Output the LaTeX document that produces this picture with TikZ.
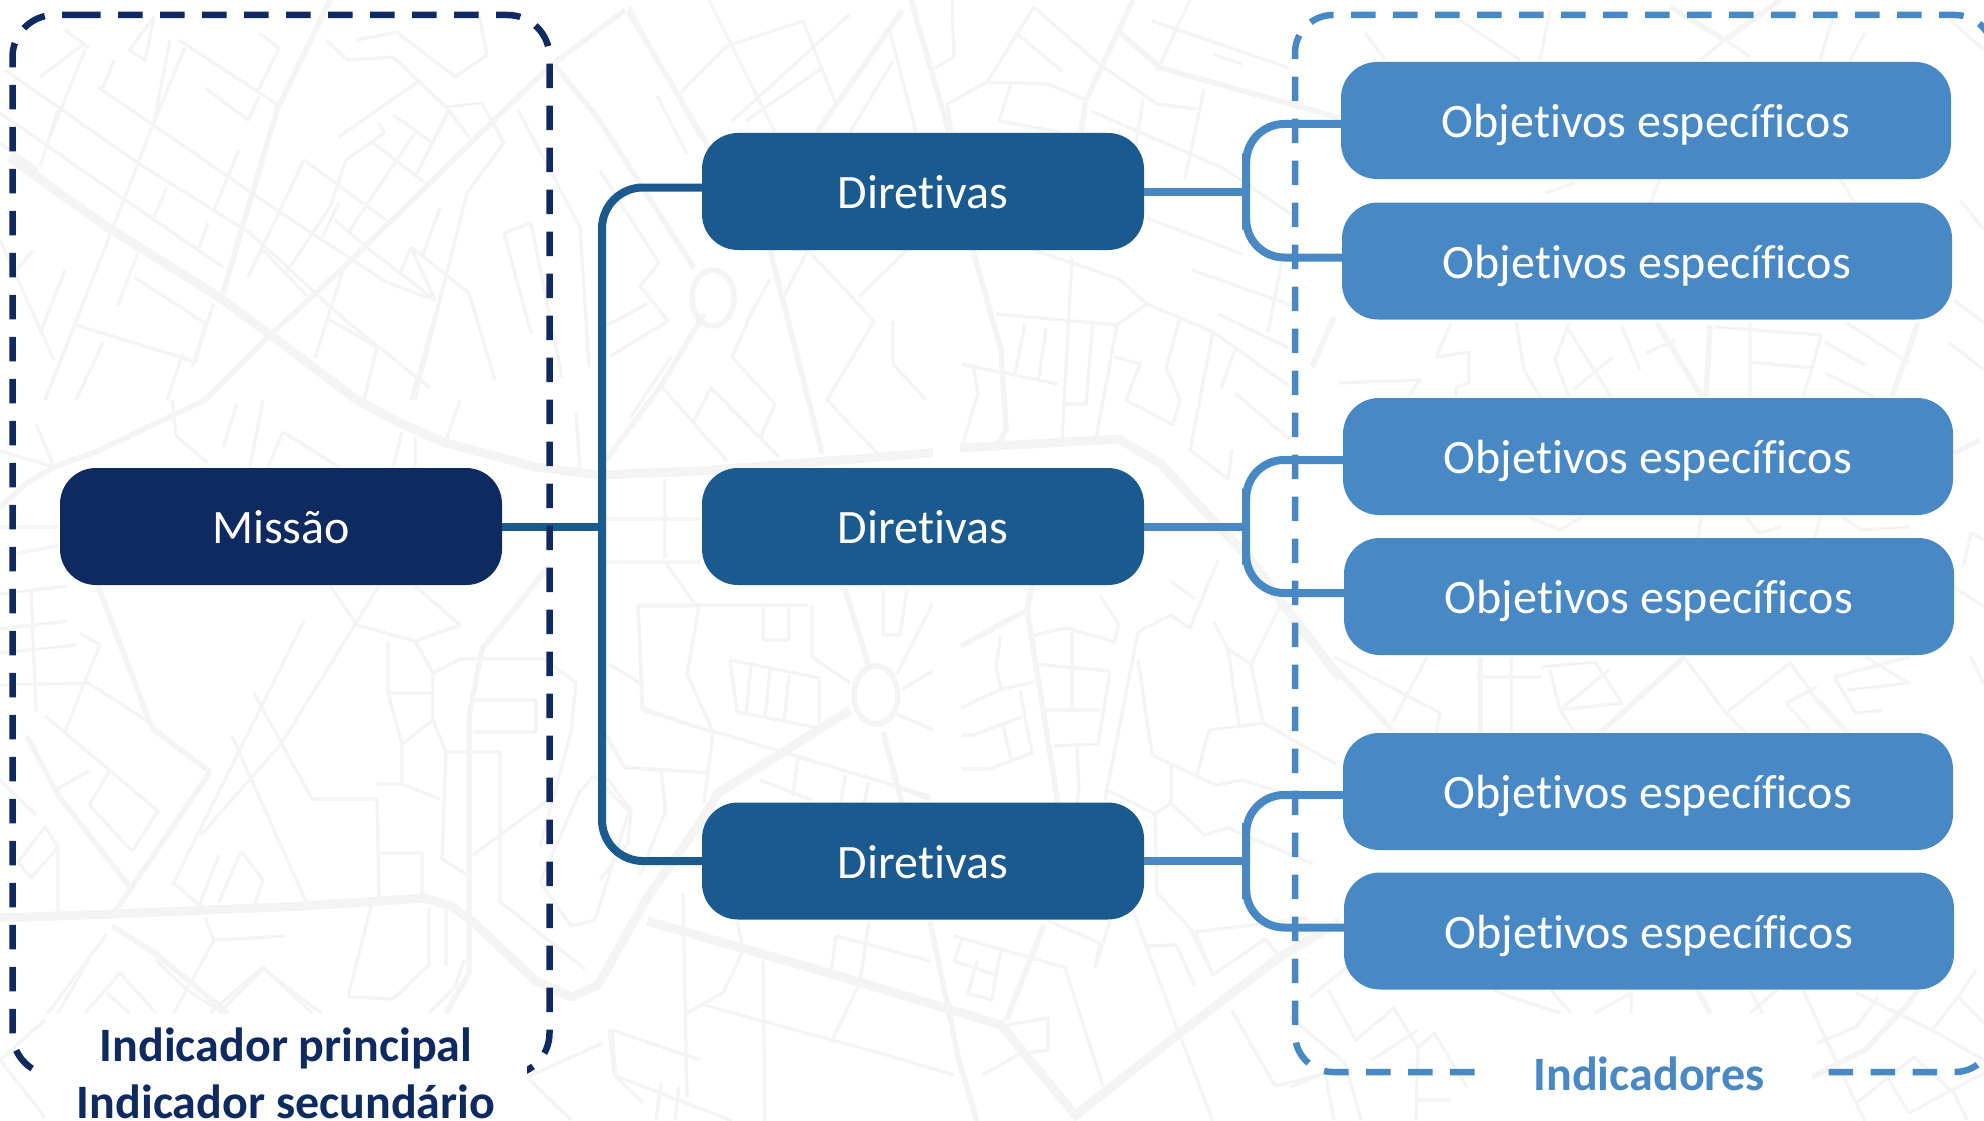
\documentclass[tikz,border=0pt]{standalone}
\usepackage{fontspec}
\setmainfont[Ligatures=NoCommon]{Carlito}
\definecolor{escuro}{HTML}{0F2A60}
\definecolor{medio}{HTML}{1B5A8E}
\definecolor{claro}{HTML}{4889C5}
\definecolor{mapa}{HTML}{F4F4F4}
\tikzstyle{caixa}=[rounded corners=36pt, inner sep=0pt, text=white, text height=38pt, text depth=4pt, font=\fontsize{48}{48}\selectfont]
\tikzstyle{missao}=[caixa, fill=escuro, minimum width=442pt, minimum height=117pt]
\tikzstyle{diretiva}=[caixa, fill=medio, minimum width=442pt, minimum height=117pt]
\tikzstyle{objetivo}=[caixa, fill=claro, minimum width=610pt, minimum height=117pt]
\tikzstyle{rua}=[draw=mapa, line width=3.2pt, line join=round]
\tikzstyle{via}=[draw=mapa, line width=5.5pt, line join=round]
\tikzstyle{avenida}=[draw=mapa, line width=9pt, line join=round]
\tikzstyle{tracado}=[line width=6.5pt, dash pattern=on 24.5pt off 17.5pt]
\tikzstyle{rotulo}=[inner sep=0pt, font=\fontsize{48}{57}\selectfont\bfseries, align=center]
\newcommand{\objetivo}{\node[objetivo]}

\begin{document}
\begin{tikzpicture}[x=1pt,y=-1pt]
\useasboundingbox (0,0) rectangle (1984,1121);
\fill[white] (0,0) rectangle (1984,1121);
% mapa
\draw[avenida] (9,157)--(107,227)--(219,297)--(268,333)--(357,400)--(402,424)--(446,443)--(536,467)--(598,475)--(700,471)--(930,453)--(960,448)--(1119,439)--(1161,464)--(1194,500)--(1251,560)--(1279,599)--(1340,678);
\draw[avenida] (0,918)--(112,914)--(304,906)--(424,898)--(451,906)--(473,922)--(536,981)--(571,997)--(598,985)--(647,898)--(700,823)--(718,793)--(850,710);
\draw[avenida] (647,921)--(836,975)--(1001,1025)--(1072,1111) (1072,1118)--(1176,1036)--(1280,957)--(1340,921);
\draw[via] (330,0)--(277,110)--(223,293) (625,10)--(549,67)--(491,123)--(344,267)--(268,337)--(205,400)--(98,451)--(54,467)--(27,483)--(0,507);
\draw[via] (553,63)--(600,121)--(694,268) (628,11)--(713,154) (911,0)--(949,132) (973,250)--(1001,350)--(1006,429)--(996,450);
\draw[via] (1119,32)--(1161,68)--(1340,118) (1133,0)--(1086,100)--(1081,132) (902,11)--(817,132) (704,314)--(661,386)--(605,461) (770,250)--(822,453);
\draw[via] (549,566)--(482,649)--(469,716)--(469,922)--(469,973)--(446,1013) (27,736)--(58,795)--(129,886) (210,772)--(116,910) (152,728)--(210,772) (98,586)--(152,728) (112,926)--(156,954)--(228,1013);
\draw[via] (1032,585)--(1027,610)--(1058,803) (961,646)--(1027,610) (930,921)--(959,1061)--(977,1121) (1044,925)--(1006,1021) (845,589)--(869,667) (883,732)--(902,803) (1290,620)--(1392,730) (1657,323)--(1702,397) (1710,325)--(1706,397) (1918,323)--(1892,397) (1684,657)--(1600,733) (1817,700)--(1848,733) (1480,657)--(1480,733) (1312,367)--(1334,317) (1670,7)--(1725,40)--(1780,0) (1697,990)--(1710,1013) (1812,1077)--(1865,1050)--(1909,1003)--(1925,980) (1980,440)--(1954,453);
\draw[via] (713,298) ellipse [x radius=21pt, y radius=28pt];
\draw[via] (876,695) ellipse [x radius=22pt, y radius=29pt];
\draw[rua] (65,30)--(89,48) (5,70)--(138,163)--(250,233)--(345,320)--(430,388) (0,113)--(125,200)--(223,267) (98,87)--(281,213)--(388,283)--(435,300) (179,40)--(281,107) (326,40)--(348,60)--(393,57)--(446,107)--(469,137);
\draw[rua] (85,43)--(40,77) (47,143)--(85,50) (170,40)--(154,123) (58,110)--(40,167) (185,47)--(152,127)--(116,220)--(45,400) (239,150)--(214,210) (208,223)--(199,248) (167,187)--(154,217) (138,253)--(118,305) (65,270)--(40,333) (134,277)--(205,323)--(196,362) (76,325)--(196,362) (183,353)--(167,400) (103,343)--(76,400) (214,303)--(192,367) (259,97)--(248,120)--(205,88) (259,33)--(279,48)--(257,93) (114,60)--(103,88) (129,50)--(154,17)--(145,60)--(129,50) (0,240)--(54,360) (33,250)--(11,277) (330,320)--(377,347)--(364,400) (315,358)--(344,267) (446,277)--(411,400) (0,143)--(38,170);
\draw[rua] (0,451)--(54,467) (36,424)--(54,467) (0,527)--(58,527) (13,554)--(58,546) (172,400)--(176,436)--(208,463) (237,404)--(223,447) (263,400)--(250,467) (283,432)--(268,467) (283,432)--(339,467) (402,432)--(393,467) (415,436)--(415,467) (460,400)--(446,440) (576,412)--(580,471);
\draw[rua] (357,40)--(397,32)--(455,77)--(487,55)--(478,10) (446,107)--(482,103)--(504,143)--(467,193)--(415,400) (339,137)--(420,80) (379,123)--(384,133)--(346,160)--(330,207)--(286,273) (393,115)--(433,143) (449,110)--(415,177) (373,143)--(424,182) (415,133)--(348,233) (304,160)--(248,277) (304,160)--(386,220) (339,203)--(321,240) (263,250)--(308,297) (335,220)--(370,250)--(435,300)--(411,247) (440,208)--(422,257) (411,247)--(469,293)--(495,380) (400,273)--(411,247);
\draw[rua] (504,233)--(531,223)--(562,377) (504,233)--(531,333) (518,110)--(580,227)--(589,367) (629,7)--(700,137);
\draw[rua] (304,621)--(174,882) (379,586)--(281,744)--(201,835) (330,586)--(357,625)--(415,641)--(460,625)--(415,586) (232,736)--(308,906) (254,693)--(312,799)--(377,799)--(379,898) (379,853)--(422,853)--(422,898) (377,784)--(402,784)--(440,799);
\draw[rua] (388,641)--(388,693)--(402,744)--(402,784) (388,693)--(433,693) (433,673)--(433,720)--(402,744) (415,641)--(433,673) (433,720)--(446,752)--(442,859)--(466,874) (446,752)--(500,752)--(500,902)--(585,969) (433,673)--(460,659)--(545,659)--(576,683)--(571,732)--(540,847) (473,700)--(536,700)--(536,732)--(473,732) (473,855)--(549,799);
\draw[rua] (0,594)--(67,586) (0,629)--(67,621) (0,653)--(76,645) (0,685)--(89,683) (31,590)--(36,712) (80,633)--(100,645)--(85,681)--(65,732) (85,681)--(152,724) (45,716)--(158,811)--(132,851)--(89,805)--(109,772) (54,791)--(89,771) (36,815)--(0,780) (58,847)--(45,827)--(18,862)--(31,878)--(58,847)--(58,914);
\draw[rua] (172,882)--(201,906) (219,855)--(199,906) (241,851)--(263,880)--(254,906) (241,851)--(219,902) (205,918)--(214,940)--(286,936) (214,940)--(174,1013) (371,906)--(348,997)--(393,999)--(429,965)--(429,908) (446,910)--(446,965) (107,934)--(45,1017) (263,969)--(219,1013) (263,969)--(321,1013) (120,973)--(85,1013) (120,973)--(156,1013);
\draw[rua] (665,479)--(665,558) (603,519)--(700,519) (603,562)--(700,562) (665,562)--(696,606)--(638,606)--(643,708)--(700,728) (603,732)--(625,768)--(700,772) (661,768)--(665,811) (594,776)--(580,791)--(540,882)--(571,926)--(595,920)--(629,811)--(594,776);
\draw[rua] (600,171)--(659,263)--(640,286)--(668,321)--(609,357) (600,329)--(647,304) (671,357)--(630,418) (661,386)--(727,461) (732,357)--(775,404)--(760,439) (694,421)--(711,388)--(779,457) (751,314)--(732,357) (770,279)--(751,314) (793,250)--(808,250)--(874,321)--(827,400)--(878,454) (860,296)--(907,250) (784,296)--(808,250) (893,321)--(893,364)--(926,400);
\draw[rua] (709,0)--(775,132) (803,21)--(836,104) (850,14)--(732,121) (822,68)--(746,121) (657,96)--(687,154) (680,93)--(727,46)--(803,21) (890,32)--(916,132) (893,61)--(850,132) (952,0)--(954,57)--(935,68) (1034,7)--(987,82)--(947,104)--(952,132) (987,82)--(1048,84)--(1086,100) (1015,32)--(1062,71) (1034,7)--(1095,61) (1095,61)--(1157,104)--(1197,109) (1011,84)--(999,121)--(1060,132) (1091,111)--(1223,168)--(1291,214) (1143,100)--(1133,164) (1204,89)--(1185,179) (1157,71)--(1190,0) (1152,21)--(1289,68) (1213,54)--(1242,64);
\draw[rua] (1034,250)--(1119,279)--(1147,304)--(1213,332)--(1289,386) (1147,218)--(1242,254) (1072,257)--(1062,439) (1147,304)--(1117,325)--(996,314) (1117,325)--(1096,439) (1093,321)--(1086,404)--(1065,404) (1025,323)--(1015,375) (1046,328)--(1039,378) (961,364)--(1058,384) (973,364)--(978,393)--(963,443) (1114,357)--(1140,364)--(1126,400)--(1173,425)--(1180,400)--(1166,368)--(1180,318) (1213,332)--(1190,450)--(1228,479)--(1232,450) (1235,350)--(1221,388) (1235,393)--(1289,439) (1192,270)--(1291,305) (1218,314)--(1289,348) (1268,332)--(1282,261);
\draw[rua] (638,605)--(808,605) (638,605)--(642,710)--(713,732)--(723,734)--(893,785)--(930,800) (699,606)--(687,674)--(713,732)--(704,803) (730,660)--(819,678)--(819,728)--(737,712)--(730,660) (751,665)--(746,714) (770,670)--(765,718) (789,675)--(784,722) (763,605)--(763,640)--(789,640)--(789,605) (812,605)--(812,657)--(850,683) (902,689)--(933,671) (933,603)--(897,674) (883,590)--(883,635)--(900,635)--(907,590) (897,714)--(933,730) (798,757)--(930,796) (760,780)--(812,800) (798,757)--(793,796) (845,775)--(841,803) (869,782)--(864,803);
\draw[rua] (609,664)--(640,683) (607,735)--(624,767)--(709,773) (661,771)--(666,810)--(640,875) (607,778)--(631,810)--(628,843)--(600,880);
\draw[rua] (1034,635)--(1067,628)--(1114,642)--(1119,624)--(1100,596) (1034,664)--(1110,671) (1072,632)--(1072,710) (1046,710)--(1100,710) (1110,671)--(1098,744)--(1053,746) (1001,635)--(996,667)--(1001,689)--(961,708) (1001,689)--(1034,682) (1020,691)--(1032,753)--(989,769)--(961,769) (1022,717)--(973,735)--(961,735) (1003,726)--(1011,759) (1077,746)--(1079,789)--(1077,803);
\draw[rua] (1138,632)--(1105,800) (1138,632)--(1171,615)--(1190,628)--(1218,560) (1138,660)--(1152,755)--(1171,764)--(1216,785)--(1242,780)--(1284,793) (1171,764)--(1171,803)--(1155,814)--(1105,789) (1171,803)--(1204,835)--(1228,828)--(1313,864) (1155,814)--(1157,893) (1157,893)--(1190,928)--(1213,975) (1195,932)--(1308,918) (1171,581)--(1195,599) (1213,621)--(1228,649)--(1251,664)--(1263,723)--(1336,764) (1263,723)--(1209,730)--(1197,775) (1228,649)--(1239,725) (1251,664)--(1280,606);
\draw[rua] (683,893)--(687,1097) (737,921)--(742,943) (763,961)--(765,1121) (742,953)--(723,993)--(685,1014) (609,1029)--(614,1075)--(732,1121) (704,1005)--(883,1054)--(954,1075) (836,936)--(831,975) (836,936)--(930,961) (869,921)--(860,982)--(831,1043) (954,936)--(1067,968) (963,936)--(954,961)--(996,975)--(1001,950) (996,975)--(992,1000)--(968,993)--(977,961) (1065,968)--(1103,1086) (1095,968)--(1110,921) (1048,921)--(1100,943)--(1095,968) (1006,1025)--(1048,1018)--(1048,1050)--(1020,1054)--(982,1075);
\draw[rua] (1133,911)--(1180,1036)--(1213,1121) (1147,946)--(1176,945)--(1195,986) (1195,932)--(1213,975)--(1265,939)--(1280,957) (1232,1011)--(1275,1086)--(1340,1070) (603,1043)--(527,1077) (527,1077)--(571,1120) (612,1030)--(700,1060) (612,1030)--(616,1077)--(643,1103) (661,1083)--(656,1120) (679,1087)--(675,1120);
\draw[rua] (89,960)--(58,1013) (107,993)--(129,1013) (156,960)--(187,990)--(223,1013) (263,967)--(312,1013) (263,967)--(210,1013) (464,960)--(455,987)--(429,1013) (45,1020)--(0,1060) (0,1060)--(47,1120);
\draw[rua] (1451,323)--(1436,357)--(1469,352)--(1469,383)--(1456,387)--(1456,397) (1339,383)--(1420,380)--(1408,397) (1516,323)--(1524,370)--(1542,400) (1569,323)--(1555,360)--(1569,397) (1569,330)--(1611,397) (1613,357)--(1573,390) (1622,327)--(1640,370) (1675,340)--(1646,353) (1750,323)--(1750,397) (1715,327)--(1821,335)--(1812,368)--(1803,397) (1750,362)--(1812,368) (1825,342)--(1865,365) (1825,373)--(1874,397) (1847,323)--(1909,363) (1949,343)--(1984,370) (1954,300)--(1984,323);
\draw[rua] (1746,517)--(1759,533)--(1781,527) (1843,517)--(1861,530)--(1909,527) (1529,517)--(1560,530)--(1582,517) (1701,517)--(1698,538) (1820,517)--(1815,538);
\draw[rua] (1334,657)--(1440,713)--(1436,733) (1427,657)--(1392,723) (1511,657)--(1511,733) (1476,677)--(1542,677) (1542,667)--(1595,662)--(1622,703)--(1560,710) (1550,670)--(1560,710)--(1575,733) (1560,710)--(1609,670) (1684,657)--(1726,713)--(1790,663)--(1817,700) (1726,713)--(1746,733) (1834,677)--(1909,657) (1786,703)--(1810,730) (1786,703)--(1817,687) (1834,677)--(1856,713)--(1883,710) (1847,690)--(1909,683)--(1865,657) (1971,657)--(1984,684) (1954,587)--(1984,607) (1963,567)--(1971,533)--(1984,540);
\draw[rua] (1700,60)--(1725,40)--(1750,57) (1950,20)--(1984,50) (1460,20)--(1520,60) (1820,60)--(1835,10) (1865,33)--(1850,60) (1550,10)--(1540,60) (1365,33)--(1385,60) (1545,193)--(1575,183) (1660,179)--(1650,203) (1840,179)--(1855,203) (1960,200)--(1984,230);
\draw[rua] (1328,990)--(1356,1040)--(1394,1008)--(1418,1048)--(1434,1033)--(1467,1087) (1418,1048)--(1416,1120) (1372,1060)--(1418,1030) (1290,1017)--(1345,1063)--(1361,1120) (1290,1087)--(1325,1073)--(1334,1120) (1416,1100)--(1451,1100) (1347,967)--(1310,997) (1494,990)--(1511,997)--(1560,1013) (1551,990)--(1571,1013) (1631,993)--(1631,1013) (1631,993)--(1595,1013) (1750,990)--(1763,1013) (1777,990)--(1750,1013);
\draw[rua] (1803,990)--(1856,1103)--(1865,1121) (1794,1020)--(1808,1015) (1817,1043)--(1856,1027)--(1878,997) (1856,993)--(1932,1030)--(1984,1060) (1932,1030)--(1958,997)--(1984,1023) (1958,997)--(1976,970) (1914,1057)--(1954,1093)--(1967,1120) (1887,1077)--(1909,1113) (1856,1103)--(1914,1057) (1909,1113)--(1984,1073);
\fill[white] (933,290) rectangle (960,803);
% ligacoes
\node[missao] (missao) at (281,526.5) {Missão};
\foreach \i/\y in {1/191.5,2/526.5,3/861}{
	\node[diretiva] (dir\i) at (923,\y) {Diretivas};
	}
\objetivo (obj1) at (1646,120.5) {Objetivos específicos};
\objetivo (obj2) at (1647,261) {Objetivos específicos};
\objetivo (obj3) at (1648,456.5) {Objetivos específicos};
\objetivo (obj4) at (1649,596.5) {Objetivos específicos};
\objetivo (obj5) at (1648,791.5) {Objetivos específicos};
\objetivo (obj6) at (1649,931) {Objetivos específicos};
\coordinate (tronco) at (602,526.5);
\draw[medio, line width=8pt] (missao.east) -- (tronco);
\draw[medio, line width=8pt, rounded corners=41pt] ([yshift=4pt]dir1.west) -| (tronco) |- (dir3.west);
\foreach \d/\a/\b in {1/1/2,2/3/4,3/5/6}{
	\path (dir\d.east) ++(102,0) coordinate (b\d);
	\draw[claro, line width=8pt] (dir\d.east) -- (b\d);
	\draw[claro, line width=8pt, rounded corners=38pt] ([yshift=-3.5pt]obj\a.west) -| (b\d) |- ([yshift=3.5pt]obj\b.west);
	}
% caixas tracejadas
\draw[escuro, tracado, rounded corners=42pt] (76,15) -- (549.5,15) -- (549.5,1075) -- (12.5,1075) -- (12.5,15) -- (76,15);
\draw[claro, tracado, rounded corners=38pt] (1474.5,1072) -- (1295,1072) -- (1295,15) -- (1993,15) -- (1993,500);
\draw[claro, tracado, rounded corners=38pt] (1828.5,1072) -- (1993,1072) -- (1993,900);
\fill[white] (45,1014) rectangle (527,1121);
\fill[white] (1485,1014) rectangle (1812,1121);
\node[rotulo, text=escuro] (principal) at (286,1073) {Indicador principal\\Indicador secundário};
\node[rotulo, text=claro] (indicadores) at (1649,1073.5) {Indicadores};
\end{tikzpicture}
\end{document}
